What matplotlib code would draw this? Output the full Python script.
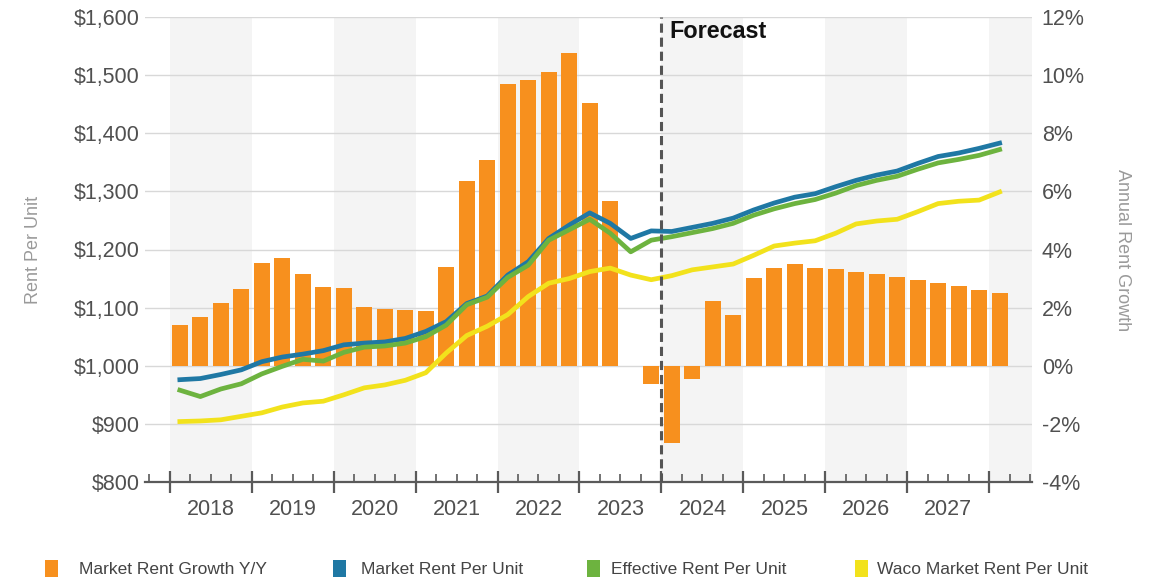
import matplotlib
matplotlib.use("Agg")
import matplotlib.pyplot as plt
from matplotlib.patches import Rectangle
from matplotlib.ticker import FixedLocator, FuncFormatter

plt.rcParams['font.family'] = ['Liberation Sans', 'DejaVu Sans']

# ---- data (quarterly, 2018 Q1 .. 2028 Q1) ----
periods = [(y, q) for y in range(2018, 2029) for q in range(1, 5)][:41]

rent_growth_pct = [1.41, 1.68, 2.16, 2.65, 3.54, 3.71, 3.17, 2.71, 2.68, 2.03,
                   1.95, 1.92, 1.89, 3.40, 6.36, 7.08, 9.69, 9.83, 10.10, 10.76,
                   9.04, 5.67, 0.00, -0.62, -2.65, -0.44, 2.23, 1.75, 3.02, 3.37,
                   3.50, 3.37, 3.33, 3.24, 3.16, 3.05, 2.95, 2.84, 2.73, 2.61, 2.52]

market_rent = [976, 978, 985, 993, 1007, 1015, 1020, 1026, 1036, 1039,
               1041, 1047, 1059, 1076, 1107, 1120, 1156, 1179, 1219, 1242,
               1263, 1245, 1219, 1232, 1231, 1238, 1245, 1254, 1268, 1280,
               1290, 1296, 1308, 1319, 1328, 1335, 1348, 1360, 1366, 1374, 1383]

effective_rent = [958, 947, 960, 969, 986, 999, 1011, 1008, 1023, 1032,
                  1034, 1039, 1050, 1070, 1105, 1118, 1152, 1173, 1216, 1234,
                  1252, 1228, 1196, 1216, 1222, 1229, 1236, 1245, 1259, 1270,
                  1279, 1286, 1297, 1310, 1319, 1326, 1338, 1349, 1355, 1362, 1372]

waco_rent = [904, 905, 907, 913, 919, 929, 936, 939, 950, 962,
             967, 975, 988, 1022, 1052, 1068, 1088, 1119, 1142, 1150,
             1162, 1168, 1156, 1148, 1155, 1165, 1170, 1175, 1190, 1206,
             1211, 1215, 1228, 1244, 1249, 1252, 1265, 1279, 1283, 1285, 1299]

year_labels = [str(y) for y in range(2018, 2028)]
forecast_start = 2024.0

series_names = ["Market Rent Growth Y/Y", "Market Rent Per Unit",
                "Effective Rent Per Unit", "Waco Market Rent Per Unit"]
colors = ["#f7901e", "#1f78a4", "#6db33f", "#f2e21c"]

# ---- figure ----
W, H = 1155, 584
fig = plt.figure(figsize=(W / 100, H / 100), dpi=100)
fig.patch.set_facecolor("white")

left, right, top, bottom = 145, 1032, 17, 482
ax_pct = fig.add_axes([left / W, 1 - bottom / H, (right - left) / W, (bottom - top) / H])
ax_usd = ax_pct.twinx()

x = [y + (q - 1) / 4 + 0.125 for (y, q) in periods]
ax_pct.set_xlim(2017.70, 2028.52)
ax_pct.set_ylim(-4, 12)
ax_usd.set_ylim(800, 1600)

# alternating year bands
for y in range(2018, 2029, 2):
    ax_pct.axvspan(y, y + 1, color="#f4f4f4", zorder=0, lw=0)

ax_pct.set_axisbelow(True)
ax_pct.grid(axis="y", color="#d8d8d8", lw=1.0)
ax_pct.grid(axis="x", visible=False)

ax_pct.bar(x, rent_growth_pct, width=0.195, color=colors[0], zorder=2)

ax_usd.plot(x, market_rent, color=colors[1], lw=3.4, solid_joinstyle="round", zorder=3)
ax_usd.plot(x, effective_rent, color=colors[2], lw=3.4, solid_joinstyle="round", zorder=3)
ax_usd.plot(x, waco_rent, color=colors[3], lw=3.4, solid_joinstyle="round", zorder=3)

# forecast divider
ax_usd.axvline(forecast_start, color="#555555", lw=2.2, ls=(0, (3, 1.6)), zorder=4)
ax_usd.text(forecast_start + 0.1, 1575, "Forecast", fontsize=16.8, fontweight="bold",
            color="#111111", va="center", ha="left")

# y axes: dollars on the left, growth on the right
ax_usd.yaxis.tick_left()
ax_pct.yaxis.tick_right()
ax_usd.yaxis.set_major_locator(FixedLocator(range(800, 1601, 100)))
ax_usd.yaxis.set_major_formatter(FuncFormatter(lambda v, p: f"${v:,.0f}"))
ax_pct.yaxis.set_major_locator(FixedLocator(range(-4, 13, 2)))
ax_pct.yaxis.set_major_formatter(FuncFormatter(lambda v, p: f"{v:.0f}%"))
ax_usd.tick_params(axis="y", length=0, pad=4, labelsize=15.5, labelcolor="#505050")
ax_pct.tick_params(axis="y", length=0, pad=7, labelsize=15.5, labelcolor="#505050")

# x axis: year boundary ticks, quarter minor ticks, year labels centred
ax_pct.xaxis.set_major_locator(FixedLocator(range(2018, 2029)))
ax_pct.xaxis.set_minor_locator(FixedLocator([2017.75 + 0.25 * i for i in range(44)]))
ax_pct.tick_params(axis="x", which="major", direction="inout", length=16, width=1.6,
                   color="#5a5a5a", labelbottom=False)
ax_pct.tick_params(axis="x", which="minor", direction="in", length=6, width=1.2,
                   color="#5a5a5a")
sec = ax_pct.secondary_xaxis("bottom")
sec.set_xticks([y + 0.5 for y in range(2018, 2028)], labels=year_labels)
sec.tick_params(length=0, pad=12, labelsize=15.5, labelcolor="#505050")
sec.spines["bottom"].set_visible(False)

for s in ax_pct.spines.values():
    s.set_visible(False)
for s in ax_usd.spines.values():
    s.set_visible(False)
ax_pct.spines["bottom"].set_visible(True)
ax_pct.spines["bottom"].set_color("#5a5a5a")
ax_pct.spines["bottom"].set_linewidth(1.6)

# axis titles
fig.text(33 / W, 1 - 250 / H, "Rent Per Unit", rotation=90, fontsize=13,
         color="#9a9a9a", ha="center", va="center")
fig.text(1122 / W, 1 - 250 / H, "Annual Rent Growth", rotation=270, fontsize=13,
         color="#9a9a9a", ha="center", va="center")

# legend
square_x = [45, 333, 587, 855]
text_x = [79, 361, 611, 877]
ly = 569
for name, c, sx, tx in zip(series_names, colors, square_x, text_x):
    fig.add_artist(Rectangle((sx / W, 1 - (ly + 8) / H), 13 / W, 17 / H,
                             transform=fig.transFigure, color=c, lw=0))
    fig.text(tx / W, 1 - ly / H, name, fontsize=12.5, color="#444444",
             ha="left", va="center")

fig.savefig("out.png", dpi=100, facecolor="white")
